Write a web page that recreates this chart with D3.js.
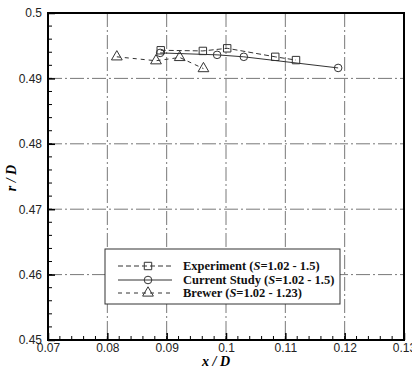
<!DOCTYPE html>
<html><head><meta charset="utf-8">
<script src="https://cdn.jsdelivr.net/npm/d3@7"></script>
<style>body{margin:0;background:#fff}svg{display:block}</style>
</head><body><svg id="c" width="412" height="370"></svg>
<script>
const xTicks = [0.07,0.08,0.09,0.1,0.11,0.12,0.13];
const xTickLabels = ["0.07","0.08","0.09","0.1","0.11","0.12","0.13"];
const yTicks = [0.45,0.46,0.47,0.48,0.49,0.5];
const yTickLabels = ["0.45","0.46","0.47","0.48","0.49","0.5"];
const expX = [0.0890,0.0961,0.1002,0.1083,0.1118];
const expY = [0.4943,0.4942,0.4946,0.4933,0.4928];
const curX = [0.0889,0.0985,0.1030,0.1189];
const curY = [0.4939,0.4936,0.4933,0.4916];
const brwX = [0.0816,0.0882,0.0922,0.0962];
const brwY = [0.4933,0.4927,0.4932,0.4915];
const legendLabels = ["Experiment","Current Study","Brewer"];
const legendRanges = ["(S=1.02 - 1.5)","(S=1.02 - 1.5)","(S=1.02 - 1.23)"];

const svg = d3.select("#c");
const L=48,R=404,T=13,B=340;
const x = d3.scaleLinear().domain([0.07,0.13]).range([L,R]);
const y = d3.scaleLinear().domain([0.45,0.5]).range([B,T]);

// grid
const g = svg.append("g");
xTicks.slice(1,-1).forEach(v=>g.append("line").attr("x1",x(v)).attr("x2",x(v)).attr("y1",T).attr("y2",B)
  .attr("stroke","#555").attr("stroke-width",0.8).attr("stroke-dasharray","14,3,2,3"));
yTicks.slice(1,-1).forEach(v=>g.append("line").attr("y1",y(v)).attr("y2",y(v)).attr("x1",L).attr("x2",R)
  .attr("stroke","#555").attr("stroke-width",0.8).attr("stroke-dasharray","14,3,2,3"));

// axes
const xAxis = d3.axisBottom(x).tickValues(xTicks).tickFormat((d,i)=>xTickLabels[i]).tickSizeInner(-7).tickSizeOuter(0).tickPadding(3);
const gx = svg.append("g").attr("transform",`translate(0,${B})`).call(xAxis);
const yAxis = d3.axisLeft(y).tickValues(yTicks).tickFormat((d,i)=>yTickLabels[i]).tickSizeInner(-7).tickSizeOuter(0).tickPadding(6);
const gy = svg.append("g").attr("transform",`translate(${L},0)`).call(yAxis);
[gx,gy].forEach(a=>{a.select(".domain").remove();a.selectAll("line").attr("stroke","#000").attr("stroke-width",1.5);
  a.selectAll("text").attr("font-family","Liberation Sans, Arial, sans-serif").attr("font-size",12).attr("fill","#222");});
gx.selectAll("text").attr("y",3);
gy.selectAll("text").attr("dy","0.32em");
// minor ticks
const xMinor = d3.range(0,31).map(i=>0.07+i*0.002);
const yMinor = d3.range(0,26).map(i=>0.45+i*0.002);
xMinor.forEach(v=>svg.append("line").attr("x1",x(v)).attr("x2",x(v)).attr("y1",B).attr("y2",B-4).attr("stroke","#000").attr("stroke-width",1));
yMinor.forEach(v=>svg.append("line").attr("y1",y(v)).attr("y2",y(v)).attr("x1",L).attr("x2",L+4).attr("stroke","#000").attr("stroke-width",1));
// frame
svg.append("rect").attr("x",L).attr("y",T).attr("width",R-L).attr("height",B-T).attr("fill","none").attr("stroke","#000").attr("stroke-width",2);

// axis titles
svg.append("text").attr("x",(L+R)/2-10).attr("y",366).attr("text-anchor","middle")
  .attr("font-family","Liberation Serif, Times New Roman, serif").attr("font-style","italic").attr("font-weight","bold").attr("font-size",14).text("x / D");
svg.append("text").attr("transform","translate(16,178) rotate(-90)").attr("text-anchor","middle")
  .attr("font-family","Liberation Serif, Times New Roman, serif").attr("font-style","italic").attr("font-weight","bold").attr("font-size",14).text("r / D");

// series
const ln = d3.line().x(d=>x(d[0])).y(d=>y(d[1]));
const series = [
  {xs:expX,ys:expY,dash:"5,3",sym:d3.symbolSquare},
  {xs:curX,ys:curY,dash:null,sym:"circle"},
  {xs:brwX,ys:brwY,dash:"4,4",sym:d3.symbolTriangle}
];
function marker(sel,s,cx,cy){
  if(s.sym==="circle") sel.append("circle").attr("cx",cx).attr("cy",cy).attr("r",3.8).attr("fill","none").attr("stroke","#333").attr("stroke-width",1);
  else sel.append("path").attr("d",d3.symbol().type(s.sym).size(s.sym===d3.symbolSquare?55:50)()).attr("transform",`translate(${cx},${cy})`)
    .attr("fill","none").attr("stroke","#333").attr("stroke-width",1);
}
series.forEach(s=>{
  const pts = s.xs.map((v,i)=>[v,s.ys[i]]);
  svg.append("path").attr("d",ln(pts)).attr("fill","none").attr("stroke","#333").attr("stroke-width",1).attr("stroke-dasharray",s.dash);
  pts.forEach(p=>marker(svg,s,x(p[0]),y(p[1])));
});

// legend
svg.append("rect").attr("x",105).attr("y",249).attr("width",235).attr("height",55).attr("fill","#fff").attr("stroke","#333").attr("stroke-width",1);
const rowsY=[266,280,293];
series.forEach((s,i)=>{
  svg.append("line").attr("x1",118).attr("x2",172).attr("y1",rowsY[i]).attr("y2",rowsY[i]).attr("stroke","#333").attr("stroke-width",1).attr("stroke-dasharray",s.dash||null);
  marker(svg,s,148,rowsY[i]);
  const t = svg.append("text").attr("x",183).attr("y",rowsY[i]+4).attr("font-family","Liberation Serif, Times New Roman, serif").attr("font-weight","bold").attr("font-size",12.5).attr("fill","#111");
  t.append("tspan").text(legendLabels[i]+" (");
  t.append("tspan").attr("font-style","italic").text("S");
  t.append("tspan").text(legendRanges[i].slice(2));
});
</script></body></html>
